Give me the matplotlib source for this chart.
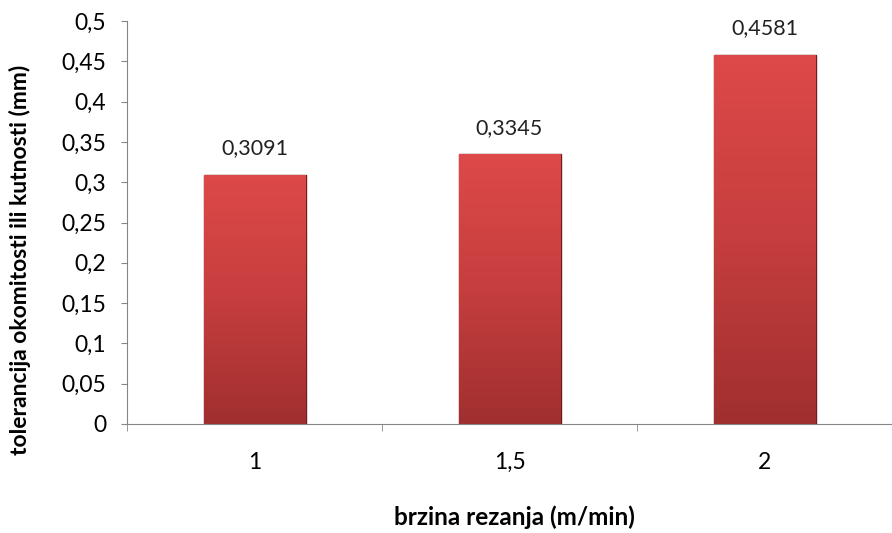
import matplotlib.pyplot as plt
import numpy as np
from matplotlib.colors import LinearSegmentedColormap

categories = ["1", "1,5", "2"]
values = [0.3091, 0.3345, 0.4581]
value_labels = ["0,3091", "0,3345", "0,4581"]
yticks = [0, 0.05, 0.1, 0.15, 0.2, 0.25, 0.3, 0.35, 0.4, 0.45, 0.5]
ytick_labels = ["0", "0,05", "0,1", "0,15", "0,2", "0,25", "0,3", "0,35", "0,4", "0,45", "0,5"]

plt.rcParams['font.family'] = ['Lato', 'DejaVu Sans']

fig = plt.figure(figsize=(8.92, 5.33), dpi=100)
ax = fig.add_axes([127 / 892, 109 / 533, 765 / 892, 403 / 533])

x = np.arange(len(categories))
bars = ax.bar(x, values, width=0.4, color="#C43B3B", edgecolor="#6E1C1C", linewidth=1.0, zorder=2)

# vertical gradient inside bars (lighter top, darker bottom)
cmap = LinearSegmentedColormap.from_list("redgrad", ["#A02F2F", "#C63E3E", "#DE4949"])
grad = np.linspace(0, 1, 256).reshape(-1, 1)
for b in bars:
    x0, w, h = b.get_x(), b.get_width(), b.get_height()
    im = ax.imshow(grad, cmap=cmap, origin="lower", aspect="auto",
                   extent=[x0, x0 + w, 0, h], zorder=2.5)
    im.set_clip_path(b)

for xi, v, lab in zip(x, values, value_labels):
    ax.annotate(lab, (xi, v), xytext=(0, 12), textcoords="offset points",
                ha="center", va="bottom", fontsize=15.5, color="#222222")

ax.set_xlim(-0.5, 2.5)
ax.set_ylim(0, 0.5)
ax.set_yticks(yticks)
ax.set_yticklabels(ytick_labels, fontsize=16.5)
ax.set_xticks(x)
ax.set_xticklabels(categories, fontsize=16.5)
ax.set_xticks([-0.5, 0.5, 1.5, 2.5], minor=True)
ax.tick_params(axis="x", which="major", length=0, pad=20)
ax.tick_params(axis="x", which="minor", length=5, color="#868686", direction="out")
ax.tick_params(axis="y", length=4, color="#868686", direction="out", pad=11)

for s in ["top", "right"]:
    ax.spines[s].set_visible(False)
for s in ["left", "bottom"]:
    ax.spines[s].set_color("#868686")

ax.set_xlabel("brzina rezanja (m/min)", fontsize=17.5, fontweight="bold")
ax.set_ylabel("tolerancija okomitosti ili kutnosti (mm)", fontsize=16.5, fontweight="bold")
ax.xaxis.set_label_coords(0.507, -0.203)
ax.yaxis.set_label_coords(-0.126, 0.407)

fig.savefig("out.png", dpi=100)
